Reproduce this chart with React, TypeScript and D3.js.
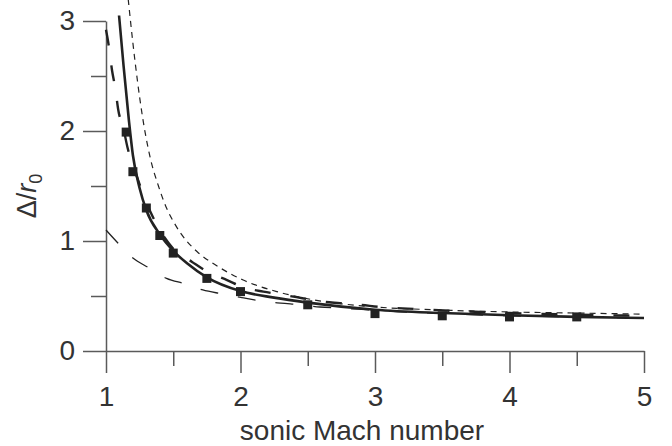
import React, { useEffect, useRef } from 'react';
import * as d3 from 'd3';

// measured points (squares)
const markerMach = [1.15, 1.2, 1.3, 1.4, 1.5, 1.75, 2, 2.5, 3, 3.5, 4, 4.5];
const markerVal = [1.99, 1.63, 1.3, 1.05, 0.89, 0.66, 0.54, 0.42, 0.34, 0.32, 0.31, 0.31];

// solid curve
const solidMach = [1.097, 1.13, 1.17, 1.2, 1.25, 1.3, 1.4, 1.5, 1.6, 1.75, 2.0, 2.25, 2.5, 3.0, 3.5, 4.0, 4.5, 5.0];
const solidVal = [3.05, 2.6, 2.1, 1.78, 1.48, 1.28, 1.06, 0.91, 0.8, 0.67, 0.545, 0.485, 0.44, 0.375, 0.345, 0.325, 0.31, 0.3];

// thick long-dash curve
const longDashMach = [1.0, 1.02, 1.045, 1.07, 1.09, 1.13, 1.16, 1.22, 1.3, 1.4, 1.5, 1.64, 1.77, 1.9, 2.03, 2.17, 2.32, 2.46, 2.6, 2.74, 2.89, 3.04, 3.33, 4.0, 4.5, 5.0];
const longDashVal = [2.92, 2.78, 2.55, 2.38, 2.2, 2.02, 1.85, 1.62, 1.35, 1.1, 0.93, 0.81, 0.71, 0.645, 0.575, 0.54, 0.51, 0.48, 0.45, 0.435, 0.42, 0.4, 0.38, 0.345, 0.33, 0.32];

// thin short-dash curve (upper)
const shortDashMach = [1.165, 1.2, 1.27, 1.33, 1.39, 1.45, 1.5, 1.55, 1.6, 1.68, 1.83, 2.02, 2.27, 2.52, 3.01, 3.43, 4.0, 4.5, 5.0];
const shortDashVal = [3.2, 2.8, 2.14, 1.75, 1.5, 1.3, 1.18, 1.08, 1.0, 0.9, 0.77, 0.645, 0.54, 0.47, 0.4, 0.375, 0.355, 0.345, 0.335];

// thin long-dash curve (lower)
const lowDashMach = [1.0, 1.09, 1.2, 1.32, 1.45, 1.59, 1.72, 1.86, 2.01, 2.15, 2.3, 2.44, 2.59, 2.74, 3.0, 3.5, 4.0, 4.5, 5.0];
const lowDashVal = [1.1, 0.98, 0.845, 0.755, 0.66, 0.61, 0.555, 0.52, 0.485, 0.455, 0.435, 0.42, 0.4, 0.39, 0.37, 0.34, 0.32, 0.31, 0.3];

const xMajor = [1, 2, 3, 4, 5];
const xMinor = [1.5, 2.5, 3.5, 4.5];
const yMajor = [0, 1, 2, 3];
const yMinor = [0.5, 1.5, 2.5];

const App = () => {
  const ref = useRef<SVGSVGElement>(null);

  useEffect(() => {
    const width = 672;
    const height = 446;
    const margin = { top: 21, right: 28, bottom: 95, left: 106 };
    const font = '"Liberation Sans", Arial, sans-serif';
    const axisColor = '#5a5a5a';
    const ink = '#222';

    const svg = d3.select(ref.current);
    svg.selectAll('*').remove();

    const x = d3.scaleLinear().domain([1, 5]).range([margin.left, width - margin.right]);
    const y = d3.scaleLinear().domain([0, 3]).range([height - margin.bottom, margin.top]);

    // axes
    const styleAxis = (g) => {
      g.selectAll('path, line').attr('stroke', axisColor).attr('stroke-width', 1.5);
      g.selectAll('text').attr('fill', '#333').style('font-family', font).style('font-size', '28px');
    };

    svg.append('g')
      .attr('transform', `translate(0,${y(0)})`)
      .call(d3.axisBottom(x).tickValues(xMinor).tickSize(15).tickFormat(() => '').tickSizeOuter(0))
      .call(g => g.select('.domain').remove())
      .call(styleAxis);
    svg.append('g')
      .attr('transform', `translate(0,${y(0)})`)
      .call(d3.axisBottom(x).tickValues(xMajor).tickSize(22).tickPadding(13).tickSizeOuter(0).tickFormat(d3.format('d')))
      .call(styleAxis);

    svg.append('g')
      .attr('transform', `translate(${x(1)},0)`)
      .call(d3.axisLeft(y).tickValues(yMinor).tickSize(15).tickFormat(() => '').tickSizeOuter(0))
      .call(g => g.select('.domain').remove())
      .call(styleAxis);
    svg.append('g')
      .attr('transform', `translate(${x(1)},0)`)
      .call(d3.axisLeft(y).tickValues(yMajor).tickSize(23).tickPadding(8).tickSizeOuter(0).tickFormat(d3.format('d')))
      .call(styleAxis);

    // axis titles
    svg.append('text')
      .attr('x', 362)
      .attr('y', 440)
      .attr('text-anchor', 'middle')
      .attr('fill', '#333')
      .style('font-family', font)
      .style('font-size', '28px')
      .text('sonic Mach number');

    const yTitle = svg.append('text')
      .attr('transform', 'translate(36,196) rotate(-90)')
      .attr('text-anchor', 'middle')
      .attr('fill', '#333')
      .style('font-family', font)
      .style('font-size', '27px');
    yTitle.append('tspan').text('Δ/');
    yTitle.append('tspan').style('font-style', 'italic').text('r');
    yTitle.append('tspan').attr('dy', 6).style('font-size', '18px').text('0');

    // curves
    const line = d3.line<[number, number]>()
      .x(d => x(d[0]))
      .y(d => y(d[1]))
      .curve(d3.curveMonotoneX);

    const zip = (a: number[], b: number[]) => a.map((v, i) => [v, b[i]] as [number, number]);

    const curves = [
      { data: zip(lowDashMach, lowDashVal), width: 1.3, dash: '18,20' },
      { data: zip(shortDashMach, shortDashVal), width: 1.2, dash: '6,5' },
      { data: zip(longDashMach, longDashVal), width: 2.4, dash: '16,20' },
      { data: zip(solidMach, solidVal), width: 2.6, dash: null },
    ];

    svg.selectAll('path.curve')
      .data(curves)
      .enter()
      .append('path')
      .attr('class', 'curve')
      .attr('d', d => line(d.data))
      .attr('fill', 'none')
      .attr('stroke', ink)
      .attr('stroke-width', d => d.width)
      .attr('stroke-dasharray', d => d.dash);

    // squares
    const size = 9;
    svg.selectAll('rect.pt')
      .data(zip(markerMach, markerVal))
      .enter()
      .append('rect')
      .attr('class', 'pt')
      .attr('x', d => x(d[0]) - size / 2)
      .attr('y', d => y(d[1]) - size / 2)
      .attr('width', size)
      .attr('height', size)
      .attr('fill', ink);
  }, []);

  return (
    <svg
      ref={ref}
      width={672}
      height={446}
      style={{ position: 'absolute', left: 0, top: 0, background: '#fff' }}
    />
  );
};

export default App;
